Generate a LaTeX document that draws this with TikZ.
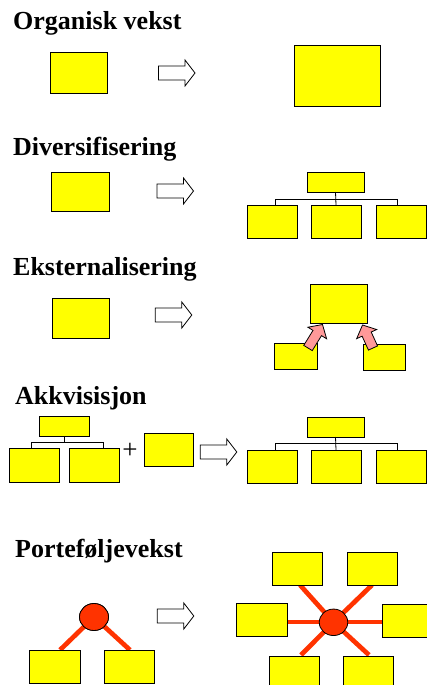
\documentclass[tikz,border=0pt]{standalone}
\usepackage{fontspec}
\setmainfont{Liberation Serif}
\usetikzlibrary{calc,shapes.geometric}

\definecolor{boxyellow}{HTML}{FFFF00}
\definecolor{linkred}{HTML}{FF3300}
\definecolor{arrowpink}{HTML}{FF9999}

\tikzset{
  box/.style={draw=black, fill=boxyellow, line width=1pt, inner sep=0pt,
              outer sep=0pt, anchor=north west},
  title/.style={anchor=base west, inner sep=0pt,
                font=\fontsize{26}{30}\selectfont\bfseries},
  org/.style={draw=black, line width=0.8pt},
  hollow/.style={draw=black, fill=white, line width=0.8pt, line join=miter},
  pinkarrow/.style={draw=black, fill=arrowpink, line width=0.8pt, line join=miter},
  link/.style={draw=linkred, line width=4.7pt},
  hub/.style={ellipse, draw=black, fill=linkred, line width=0.8pt,
              inner sep=0pt, minimum width=29pt, minimum height=27pt}
}

% yellow box: name, left, top, width, height
\newcommand\ybox[5]{\node[box, minimum width=#4pt, minimum height=#5pt] (#1) at (#2,#3) {};}
% outlined block arrow pointing right: left end x, centre y
\newcommand\hollowarr[2]{%
  \draw[hollow] (#1,#2-7) -- (#1+26.5,#2-7) -- (#1+26.5,#2-13) -- (#1+36.5,#2)
    -- (#1+26.5,#2+13) -- (#1+26.5,#2+7) -- (#1,#2+7) -- cycle;}
% pink block arrow from a tail coordinate to a tip coordinate
\newcommand\pinkarr[2]{%
  \path ($(#2)!10pt!(#1)$) coordinate (pa-n);
  \draw[pinkarrow] ($(#1)!5pt!90:(#2)$) -- ($(pa-n)!5pt!90:(#2)$)
    -- ($(pa-n)!11pt!90:(#2)$) -- (#2) -- ($(pa-n)!11pt!-90:(#2)$)
    -- ($(pa-n)!5pt!-90:(#2)$) -- ($(#1)!5pt!-90:(#2)$) -- cycle;}

\begin{document}
\begin{tikzpicture}[x=1pt, y=-1pt]
\useasboundingbox (0,0) rectangle (427,685);
\clip (0,0) rectangle (427,685);

% ---------- Organisk vekst ----------
\node[title] (t1) at (13,30) {Organisk vekst};
\ybox{o1}{50}{53}{57}{40}
\hollowarr{158.5}{73}
\ybox{o2}{294}{46}{86}{60}

% ---------- Diversifisering ----------
\node[title] (t2) at (13,155) {Diversifisering};
\ybox{d1}{51}{172}{58}{39}
\hollowarr{157}{191}
\ybox{d2top}{307}{172}{57}{20}
\ybox{d2a}{247}{205}{50}{33}
\ybox{d2b}{311}{205}{50}{33}
\ybox{d2c}{376}{205}{50}{33}
\coordinate (d2l) at (275,199);
\coordinate (d2r) at (397,199);
\draw[org] (d2top.south) -- (d2b.north);
\draw[org] (d2a.north -| d2l) |- (d2r) -- (d2r |- d2c.north);

% ---------- Eksternalisering ----------
\node[title] (t3) at (13,275) {Eksternalisering};
\ybox{e1}{52}{298}{57}{40}
\hollowarr{155.3}{315}
\ybox{e2top}{310}{284}{57}{39}
\ybox{e2l}{274}{343}{43}{26}
\ybox{e2r}{363}{344}{42}{26}
\coordinate (e2la) at (308,348);
\coordinate (e2lb) at (322.5,324.5);
\coordinate (e2ra) at (373,348);
\coordinate (e2rb) at (362.5,325);
\pinkarr{e2la}{e2lb}
\pinkarr{e2ra}{e2rb}

% ---------- Akkvisisjon ----------
\node[title] (t4) at (15,404) {Akkvisisjon};
\ybox{a1top}{39}{416}{50}{20}
\ybox{a1l}{9}{448}{50}{34}
\ybox{a1r}{69}{448}{50}{34}
\coordinate (a1bl) at (31,442);
\coordinate (a1br) at (103,442);
\draw[org] (a1top.south) -- (a1top.south |- a1bl);
\draw[org] (a1l.north -| a1bl) |- (a1br) -- (a1br |- a1r.north);
\node[inner sep=0pt, font=\fontsize{27}{29}\selectfont] (plus) at (130,451) {+};
\ybox{a2}{144}{433}{49}{33}
\hollowarr{200.3}{452}
\ybox{a3top}{307}{417}{57}{20}
\ybox{a3a}{247}{450}{50}{33}
\ybox{a3b}{311}{450}{50}{33}
\ybox{a3c}{376}{450}{50}{33}
\coordinate (a3l) at (275,443.5);
\coordinate (a3r) at (397,443.5);
\draw[org] (a3top.south) -- (a3b.north);
\draw[org] (a3a.north -| a3l) |- (a3r) -- (a3r |- a3c.north);

% ---------- Porteføljevekst ----------
\node[title] (t5) at (15,557) {Porteføljevekst};
% small portfolio
\coordinate (p1lt) at (60,650);
\coordinate (p1rt) at (130,650);
\node[hub] (p1c) at (94,617) {};
\draw[link] (p1lt) -- (p1c.center) -- (p1rt);
\node[hub] at (p1c) {};
\ybox{p1l}{29}{650}{51}{33}
\ybox{p1r}{104}{650}{50}{33}

\hollowarr{157.3}{616}

% grown portfolio
\coordinate (pc) at (333.5,622.3);
\coordinate (q1) at (300,585);
\coordinate (q2) at (369,655);
\coordinate (q3) at (372,585);
\coordinate (q4) at (301,655);
\coordinate (q5) at (287,622);
\coordinate (q6) at (383,622);
\draw[link] (q1) -- (pc) -- (q2);
\draw[link] (q3) -- (pc) -- (q4);
\draw[link] (q5) -- (q6);
\node[hub, minimum width=28.5pt, minimum height=26.5pt] (p2c) at (pc) {};
\ybox{pTL}{272}{552}{50}{33}
\ybox{pTR}{347}{552}{50}{33}
\ybox{pL}{236}{603}{51}{33}
\ybox{pR}{382}{604}{50}{33}
\ybox{pBL}{269}{656}{50}{33}
\ybox{pBR}{343}{656}{50}{33}
\end{tikzpicture}
\end{document}
